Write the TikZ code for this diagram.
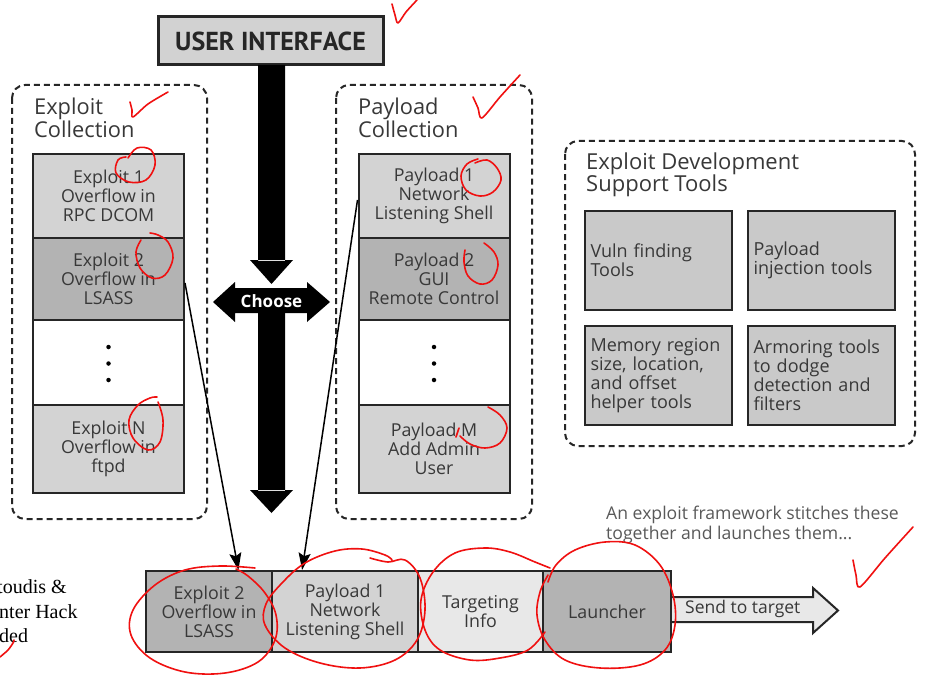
\documentclass[tikz,border=0pt]{standalone}
\usepackage{fontspec}
\setmainfont{Open Sans}
\newfontfamily\ptsans{PT Sans}
\newfontfamily\serifface{Liberation Serif}
\usetikzlibrary{arrows.meta,calc}
\definecolor{edgec}{HTML}{262626}
\definecolor{txtc}{HTML}{383838}
\definecolor{lightcell}{HTML}{D3D3D3}
\definecolor{darkcell}{HTML}{B3B3B3}
\definecolor{palecell}{HTML}{E8E8E8}
\definecolor{toolcell}{HTML}{C9C9C9}
\definecolor{uibox}{HTML}{D2D2D2}
\definecolor{inkred}{HTML}{F01010}
\tikzset{
  cellbox/.style={draw=edgec, line width=2pt, align=center, inner sep=0pt,
    font=\fontsize{17.8}{19}\selectfont, text=txtc},
  stackcell/.style={cellbox, minimum width=151pt},
  groupbox/.style={draw=edgec, line width=2pt, dash pattern=on 6pt off 4pt, rounded corners=13pt},
  grouptitle/.style={anchor=north west, align=left, inner sep=0pt, text=txtc,
    font=\fontsize{21.8}{23}\selectfont},
  toolbox/.style={draw=edgec, line width=2pt, fill=toolcell, minimum width=147pt,
    minimum height=99pt, text width=136pt, inner xsep=5.5pt, inner ysep=0pt, align=left,
    font=\fontsize{18}{19}\selectfont, text=txtc},
  dotmark/.style={circle, fill=black, inner sep=0pt, minimum size=4.5pt},
  thinarrow/.style={-{Stealth[length=17pt,width=12pt,inset=3pt]}, line width=1.5pt, draw=black},
  redink/.style={draw=inkred, line width=1.6pt, line cap=round, line join=round},
}
\begin{document}
\begin{tikzpicture}[x=1pt,y=-1pt]
\useasboundingbox[fill=white] (0,0) rectangle (925,679);

% ---- User interface
\node[draw=edgec, line width=3pt, fill=uibox, minimum width=225pt, minimum height=48pt,
  font=\ptsans\fontsize{26}{26}\selectfont\bfseries, text=black!85] (ui) at (270.5,41) {USER INTERFACE};

% ---- big black arrows
\fill[black] (258,65) rectangle (285,261) (250,260) -- (293,260) -- (271.5,284) -- cycle;
\fill[black] (213,302) -- (235,282) -- (235,288) -- (307,288) -- (307,282) -- (330,302)
  -- (307,322) -- (307,313) -- (235,313) -- (235,322) -- cycle;
\node[text=white, font=\fontsize{17}{17}\selectfont\bfseries, inner sep=0pt] (choose) at (271.5,301) {Choose};
\fill[black] (258,313) rectangle (285,491) (250,490) -- (293,490) -- (271.5,513) -- cycle;

% ---- Exploit collection
\draw[groupbox] (12,85) rectangle (207,519);
\node[grouptitle] (etitle) at (34,98) {Exploit\\Collection};
\node[stackcell, fill=lightcell, minimum height=84pt] (e1) at (108.5,196) {Exploit 1\\Overflow in\\RPC DCOM};
\node[stackcell, fill=darkcell, minimum height=82pt] (e2) at (108.5,279) {Exploit 2\\Overflow in\\LSASS};
\node[stackcell, fill=white, minimum height=85pt] (e3) at (108.5,362.5) {};
\node[stackcell, fill=lightcell, minimum height=88pt] (e4) at (108.5,449) {Exploit N\\Overflow in\\ftpd};
\node[dotmark] (ed1) at (108.5,347) {};
\node[dotmark] (ed2) at (108.5,363.5) {};
\node[dotmark] (ed3) at (108.5,380) {};

% ---- Payload collection
\draw[groupbox] (336,85) rectangle (532,519);
\node[grouptitle] (ptitle) at (358,98) {Payload\\Collection};
\node[stackcell, fill=lightcell, minimum height=84pt] (p1) at (434,196) {Payload 1\\Network\\Listening Shell};
\node[stackcell, fill=darkcell, minimum height=82pt] (p2) at (434,279) {Payload 2\\GUI\\Remote Control};
\node[stackcell, fill=white, minimum height=85pt] (p3) at (434,362.5) {};
\node[stackcell, fill=lightcell, minimum height=88pt] (p4) at (434,449) {Payload M\\Add Admin\\User};
\node[dotmark] (pd1) at (434,347) {};
\node[dotmark] (pd2) at (434,363.5) {};
\node[dotmark] (pd3) at (434,380) {};

% ---- Support tools
\draw[groupbox] (565,141) rectangle (915,446);
\node[grouptitle, font=\fontsize{22}{22}\selectfont] (ttitle) at (586,153) {Exploit Development\\Support Tools};
\node[toolbox] (t1) at (658.5,260.5) {Vuln finding\\Tools};
\node[toolbox] (t2) at (821.5,260.5) {Payload\\injection tools};
\node[toolbox] (t3) at (658.5,375.5) {Memory region\\size, location,\\and offset\\helper tools};
\node[toolbox] (t4) at (821.5,375.5) {Armoring tools\\to dodge\\detection and\\filters};

% ---- caption
\node[anchor=north west, align=left, inner sep=0pt, text=black!65,
  font=\fontsize{17.6}{20}\selectfont] (cap) at (606,506) {An exploit framework stitches these\\together and launches them...};

% ---- bottom row
\node[cellbox, fill=darkcell, minimum width=126pt, minimum height=81pt] (b1) at (209,611.5) {Exploit 2\\Overflow in\\LSASS};
\node[cellbox, fill=lightcell, minimum width=146pt, minimum height=81pt] (b2) at (345,611.5) {Payload 1\\Network\\Listening Shell};
\node[cellbox, fill=palecell, minimum width=125pt, minimum height=81pt] (b3) at (480.5,611.5) {Targeting\\Info};
\node[cellbox, fill=darkcell, minimum width=128pt, minimum height=81pt] (b4) at (607,611.5) {Launcher};

% send arrow
\draw[draw=edgec, line width=2pt, fill=palecell, line join=miter]
  (b4.east |- 0,597) -- (813,597) -- (813,588) -- (838,610.5) -- (813,633) -- (813,622) -- (b4.east |- 0,622);
\node[anchor=west, inner sep=0pt, text=txtc, font=\fontsize{17.5}{19}\selectfont] (send) at (685,609) {Send to target};

% ---- thin arrows
\draw[thinarrow] ([yshift=-4pt]e2.east) -- ($(b1.north west)!0.73!(b1.north east)$);
\draw[thinarrow] ([yshift=-4pt]p1.west) -- ($(b2.north west)!0.21!(b2.north east)$);

% ---- clipped serif text at left
\node[anchor=base west, inner sep=0pt, font=\serifface\fontsize{20}{24}\selectfont] (s1) at (-3,593) {toudis \&};
\node[anchor=base west, inner sep=0pt, font=\serifface\fontsize{20}{24}\selectfont] (s2) at (-1,618) {nter Hack};
\node[anchor=base west, inner sep=0pt, font=\serifface\fontsize{20}{24}\selectfont] (s3) at (-1,642) {ded};

% ---- red hand annotations
\draw[redink] plot[smooth, tension=0.5] coordinates {(392,4) (395,15) (398,23) (406,12) (417,0)};
\draw[redink] plot[smooth, tension=0.5] coordinates {(130,102) (132,110) (133,117) (148,104) (168,92)};
\draw[redink] plot[smooth, tension=0.5] coordinates {(473,97) (478,108) (482,118) (500,97) (520,75)};
\draw[redink] plot[smooth, tension=0.5] coordinates {(853,560) (856,575) (860,587) (885,558) (913,527)};
\draw[redink] plot[smooth, tension=0.5] coordinates {(0,657) (8,650) (13,643) (14,640)};
% small circles
\draw[redink] plot[smooth, tension=0.6] coordinates {(128,158) (137,148) (151,150) (155,165) (146,180) (129,182) (116,173) (118,160) (126,157)};
\draw[redink] plot[smooth, tension=0.6] coordinates {(150,233) (158,235) (168,242) (173,258) (165,275) (152,278) (140,268) (136,252) (141,240)};
\draw[redink] plot[smooth, tension=0.6] coordinates {(157,397) (150,398) (138,405) (129,420) (133,438) (148,450) (160,442) (163,420) (158,402)};
\draw[redink] plot[smooth, tension=0.6] coordinates {(475,163) (487,160) (497,168) (501,180) (493,192) (480,196) (466,190) (461,176) (467,164) (478,159)};
\draw[redink] plot[smooth, tension=0.6] coordinates {(484,243) (494,252) (498,265) (492,280) (480,284) (468,276) (464,262) (465,250)};
\draw[redink] plot[smooth, tension=0.6] coordinates {(488,407) (500,415) (507,428) (500,443) (485,448) (470,444) (460,436)};
\draw[redink] (456,437) -- (459,428);
% big circles
\draw[redink] plot[smooth, tension=0.6] coordinates {(255,568) (220,566) (185,570) (155,585) (133,610) (131,635) (150,658) (185,672) (225,673) (258,662) (275,640) (276,615) (265,593) (248,576) (236,569)};
\draw[redink] plot[smooth, tension=0.6] coordinates {(370,558) (388,562) (405,560) (420,578) (425,610) (417,640) (395,660) (360,668) (320,663) (285,648) (265,625) (266,604) (282,583) (305,563) (335,551) (362,549) (385,555) (392,560)};
\draw[redink] plot[smooth, tension=0.6] coordinates {(550,568) (535,562) (510,552) (485,548) (455,553) (433,572) (421,600) (425,630) (440,650) (470,660) (500,658) (528,650) (545,632)};
\draw[redink] plot[smooth, tension=0.6] coordinates {(548,582) (556,565) (575,550) (605,542) (635,545) (660,565) (673,595) (675,625) (665,650) (640,665) (600,668) (565,660) (545,640) (537,615) (540,592) (548,575)};
\end{tikzpicture}
\end{document}
